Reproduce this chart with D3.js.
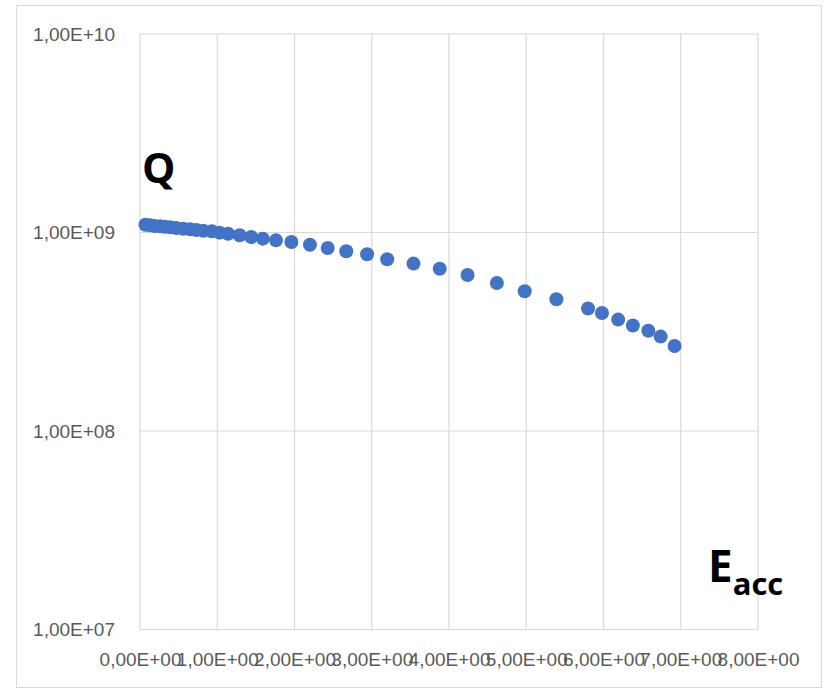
<!DOCTYPE html>
<html>
<head>
<meta charset="utf-8">
<script src="https://cdn.jsdelivr.net/npm/d3@7"></script>
<style>
  html, body { margin: 0; padding: 0; background: #fff; }
  svg { display: block; }
</style>
</head>
<body>
<svg id="chart" width="831" height="689"></svg>
<script>
// Accelerating field (x) and quality factor Q (y)
const eacc = [0.07, 0.13, 0.19, 0.26, 0.32, 0.39, 0.47, 0.56, 0.65, 0.73, 0.82, 0.93,
  1.03, 1.14, 1.29, 1.44, 1.59, 1.76, 1.96, 2.20, 2.43, 2.67, 2.94, 3.20, 3.54, 3.88,
  4.24, 4.62, 4.98, 5.39, 5.80, 5.98, 6.19, 6.38, 6.58, 6.74, 6.92];
const qValues = [1.095e9, 1.087e9, 1.078e9, 1.074e9, 1.069e9, 1.062e9, 1.053e9, 1.045e9,
  1.038e9, 1.029e9, 1.021e9, 1.014e9, 0.998e9, 0.986e9, 0.968e9, 0.949e9, 0.931e9,
  0.913e9, 0.896e9, 0.868e9, 0.836e9, 0.804e9, 0.777e9, 0.733e9, 0.697e9, 0.657e9,
  0.611e9, 0.557e9, 0.506e9, 0.461e9, 0.414e9, 0.393e9, 0.364e9, 0.340e9, 0.320e9,
  0.299e9, 0.268e9];
const xTicks = [0, 1, 2, 3, 4, 5, 6, 7, 8];
const xTickLabels = ["0,00E+00", "1,00E+00", "2,00E+00", "3,00E+00", "4,00E+00",
  "5,00E+00", "6,00E+00", "7,00E+00", "8,00E+00"];
const yTicks = [1e7, 1e8, 1e9, 1e10];
const yTickLabels = ["1,00E+07", "1,00E+08", "1,00E+09", "1,00E+10"];

const svg = d3.select("#chart");
const plot = { left: 140, right: 758, top: 34, bottom: 629.5 };

// chart frame
svg.append("rect")
  .attr("x", 16.5).attr("y", 5.5)
  .attr("width", 805).attr("height", 682)
  .attr("fill", "#fff").attr("stroke", "#d9d9d9").attr("stroke-width", 1);

const x = d3.scaleLinear().domain([0, 8]).range([plot.left, plot.right]);
const y = d3.scaleLog().domain([1e7, 1e10]).range([plot.bottom, plot.top]);

// gridlines
const grid = svg.append("g").attr("stroke", "#d9d9d9").attr("stroke-width", 1.2);
grid.selectAll("line.v").data(xTicks).join("line")
  .attr("class", "v")
  .attr("x1", d => x(d)).attr("x2", d => x(d))
  .attr("y1", plot.top).attr("y2", plot.bottom);
grid.selectAll("line.h").data(yTicks).join("line")
  .attr("class", "h")
  .attr("x1", plot.left).attr("x2", plot.right)
  .attr("y1", d => y(d)).attr("y2", d => y(d));

const labelFont = "'Liberation Sans', Arial, sans-serif";

// axes (labels only, lines drawn by the grid)
const xAxis = d3.axisBottom(x).tickValues(xTicks)
  .tickFormat((d, i) => xTickLabels[i]).tickSize(0).tickPadding(0);
svg.append("g")
  .attr("transform", `translate(0,${plot.bottom + 23})`)
  .call(xAxis)
  .call(g => g.select(".domain").remove())
  .call(g => g.selectAll("text")
    .attr("font-family", labelFont)
    .attr("font-size", 19).attr("fill", "#595959").attr("dy", "0.71em"));

const yAxis = d3.axisLeft(y).tickValues(yTicks)
  .tickFormat((d, i) => yTickLabels[i]).tickSize(0).tickPadding(0);
svg.append("g")
  .attr("transform", `translate(${plot.left - 25},0)`)
  .call(yAxis)
  .call(g => g.select(".domain").remove())
  .call(g => g.selectAll("text")
    .attr("font-family", labelFont)
    .attr("font-size", 19).attr("fill", "#595959"));

// data points
const data = eacc.map((e, i) => ({ e, q: qValues[i] }));
svg.append("g").selectAll("circle").data(data).join("circle")
  .attr("cx", d => x(d.e)).attr("cy", d => y(d.q))
  .attr("r", 7).attr("fill", "#4472c4");

// axis names
svg.append("text")
  .attr("x", 142).attr("y", 183)
  .attr("font-family", "'Open Sans', 'Noto Sans', sans-serif")
  .attr("font-weight", 700).attr("font-size", 42).attr("fill", "#000")
  .text("Q");

const eText = svg.append("text")
  .attr("x", 708).attr("y", 582)
  .attr("font-family", "'Open Sans', 'Noto Sans', sans-serif")
  .attr("font-weight", 700).attr("fill", "#000");
eText.append("tspan").attr("font-size", 44).text("E");
eText.append("tspan").attr("font-size", 31).attr("dy", 13).text("acc");
</script>
</body>
</html>
